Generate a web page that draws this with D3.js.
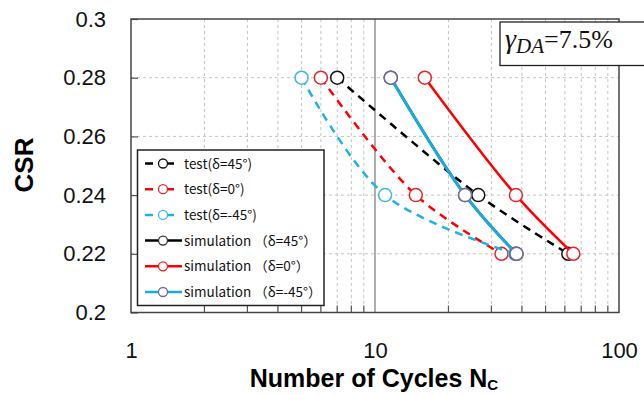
<!DOCTYPE html>
<html>
<head>
<meta charset="utf-8">
<script src="https://cdn.jsdelivr.net/npm/d3@7"></script>
<style>
  body { margin: 0; background: #fff; }
  svg { display: block; }
</style>
</head>
<body>
<svg id="chart" width="644" height="395"></svg>
<script>
// values
const csrLevels = [0.28, 0.24, 0.22];
const testD45 = [7.0, 26.5, 62];
const testD0 = [6.0, 14.7, 33];
const testDm45 = [5.0, 11.0, 37.5];
const simD45 = [11.6, 23.4, 38];
const simD0 = [16.0, 37.8, 65];
const simDm45 = [11.6, 23.4, 38];
const yTicks = [0.2, 0.22, 0.24, 0.26, 0.28, 0.3];
const xTicks = [1, 10, 100];
const legendLabels = ["test(δ=45°)", "test(δ=0°)", "test(δ=-45°)",
  "simulation （δ=45°）", "simulation （δ=0°）", "simulation （δ=-45°）"];

const series = [
  {vals: testD45, line: "#000", mark: "#111", dash: "8,6", w: 2.5},
  {vals: testD0, line: "#ff0000", mark: "#e8232a", dash: "8,6", w: 2.5},
  {vals: testDm45, line: "#1fb0e6", mark: "#3cb6e8", dash: "8,6", w: 2.5},
  {vals: simD45, line: "#000", mark: "#333", dash: null, w: 2.5},
  {vals: simD0, line: "#ff0000", mark: "#e8232a", dash: null, w: 2.5},
  {vals: simDm45, line: "#1aaae2", mark: "#76689f", dash: null, w: 3}
];

const mLeft = 131, mRight = 619, mTop = 19, mBottom = 312.5;

const svg = d3.select("#chart");
const x = d3.scaleLog().domain([1, 100]).range([mLeft, mRight]);
const y = d3.scaleLinear().domain([0.2, 0.3]).range([mBottom, mTop]);

// grid
const minor = [2,3,4,5,6,7,8,9,20,30,40,50,60,70,80,90];
svg.append("g").selectAll("line").data(minor).enter().append("line")
   .attr("x1", d => x(d)).attr("x2", d => x(d))
   .attr("y1", mTop).attr("y2", mBottom)
   .attr("stroke", "#c4c4c4").attr("stroke-width", 1).attr("stroke-dasharray", "3,3");
svg.append("g").selectAll("line").data([0.22, 0.24, 0.26, 0.28]).enter().append("line")
   .attr("x1", mLeft).attr("x2", mRight)
   .attr("y1", d => y(d)).attr("y2", d => y(d))
   .attr("stroke", "#c4c4c4").attr("stroke-width", 1).attr("stroke-dasharray", "3,3");
svg.append("line")
   .attr("x1", x(10)).attr("x2", x(10)).attr("y1", mTop).attr("y2", mBottom)
   .attr("stroke", "#777").attr("stroke-width", 1.2);

// minor ticks inward on bottom
svg.append("g").selectAll("line").data(minor).enter().append("line")
   .attr("x1", d => x(d)).attr("x2", d => x(d))
   .attr("y1", mBottom).attr("y2", mBottom - 7)
   .attr("stroke", "#555").attr("stroke-width", 1.2);

// axes
const yAxis = svg.append("g")
   .attr("transform", "translate(" + mLeft + ",0)")
   .call(d3.axisLeft(y).tickValues(yTicks).tickSize(-7).tickPadding(25).tickFormat(d => String(+d.toFixed(2))));
yAxis.select(".domain").remove();
yAxis.selectAll("line").attr("stroke", "#555").attr("stroke-width", 1.2);
yAxis.selectAll("text").attr("font-family", "Liberation Sans, Arial, sans-serif").attr("font-size", 22).attr("fill", "#111");

const xAxis = svg.append("g")
   .attr("transform", "translate(0," + mBottom + ")")
   .call(d3.axisBottom(x).tickValues(xTicks).tickSize(0).tickPadding(30).tickFormat(d3.format("d")));
xAxis.select(".domain").remove();
xAxis.selectAll("text").attr("font-family", "Liberation Sans, Arial, sans-serif").attr("font-size", 22).attr("fill", "#111");

// frame
svg.append("rect")
   .attr("x", mLeft).attr("y", mTop).attr("width", mRight - mLeft).attr("height", mBottom - mTop)
   .attr("fill", "none").attr("stroke", "#444").attr("stroke-width", 1.5);

// axis titles
svg.append("text")
   .attr("transform", "translate(33,165) rotate(-90)")
   .attr("text-anchor", "middle")
   .attr("font-family", "Liberation Sans, Arial, sans-serif").attr("font-weight", "bold").attr("font-size", 26)
   .text("CSR");
const xt = svg.append("text")
   .attr("x", 374).attr("y", 387)
   .attr("text-anchor", "middle")
   .attr("font-family", "Liberation Sans, Arial, sans-serif").attr("font-weight", "bold").attr("font-size", 25);
xt.append("tspan").text("Number of Cycles N");
xt.append("tspan").attr("font-size", 15).attr("dy", 3).text("C");

// data
const line = d3.line().curve(d3.curveCatmullRom)
   .x(d => x(d[0])).y(d => y(d[1]));

series.forEach(s => {
  const pts = s.vals.map((v, i) => [v, csrLevels[i]]);
  const g = svg.append("g");
  g.append("path")
   .datum(pts)
   .attr("d", line)
   .attr("fill", "none")
   .attr("stroke", s.line)
   .attr("stroke-width", s.w)
   .attr("stroke-dasharray", s.dash);
  g.selectAll("circle").data(pts).enter().append("circle")
   .attr("cx", d => x(d[0])).attr("cy", d => y(d[1]))
   .attr("r", 6.5)
   .attr("fill", "#fff")
   .attr("stroke", s.mark).attr("stroke-width", 1.5);
});

// legend
const lg = svg.append("g");
lg.append("rect")
  .attr("x", 137.5).attr("y", 150).attr("width", 186.5).attr("height", 155.5)
  .attr("fill", "#fff").attr("stroke", "#222").attr("stroke-width", 1.5);
legendLabels.forEach((lab, i) => {
  const s = series[i];
  const ly = 163.5 + i * 25.7;
  const isTest = i < 3;
  lg.append("line")
    .attr("x1", 145).attr("x2", isTest ? 174 : 182)
    .attr("y1", ly).attr("y2", ly)
    .attr("stroke", s.line).attr("stroke-width", 2.5)
    .attr("stroke-dasharray", isTest ? "8,9,12,20" : null);
  lg.append("circle")
    .attr("cx", 163).attr("cy", ly).attr("r", 4.5)
    .attr("fill", "#fff").attr("stroke", s.mark).attr("stroke-width", 1.3);
  lg.append("text")
    .attr("x", 184).attr("y", ly + 5)
    .attr("font-family", "Noto Sans CJK SC, sans-serif").attr("font-size", 13.5)
    .attr("fill", "#111")
    .text(lab);
});

// gamma box
const gb = svg.append("g");
gb.append("rect")
  .attr("x", 500).attr("y", 22).attr("width", 160).attr("height", 43.5)
  .attr("fill", "#fff").attr("stroke", "#222").attr("stroke-width", 1.3);
const gt = gb.append("text")
  .attr("x", 505).attr("y", 48)
  .attr("font-family", "Liberation Serif, Times New Roman, serif").attr("font-size", 26).attr("fill", "#111");
gt.append("tspan").attr("font-style", "italic").attr("font-size", 28).text("γ");
gt.append("tspan").attr("font-style", "italic").attr("font-size", 21).attr("dy", 5).text("DA");
gt.append("tspan").attr("dy", -5).text("=7.5%");
</script>
</body>
</html>
